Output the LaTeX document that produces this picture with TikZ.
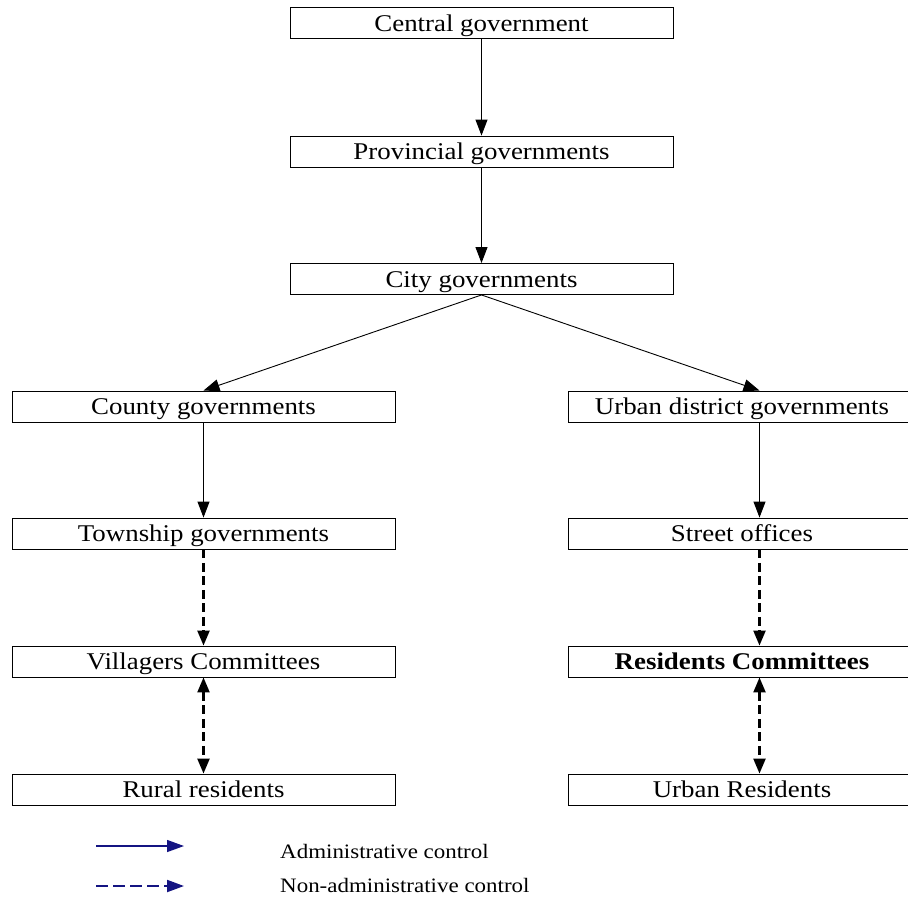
\documentclass[tikz,border=0pt]{standalone}
\usepackage{fontspec}
\setmainfont{Liberation Serif}[FakeStretch=1.12]
\usetikzlibrary{arrows.meta}
\definecolor{legendblue}{RGB}{20,20,130}
\begin{document}
\begin{tikzpicture}[x=1pt,y=-1pt,
  level/.style={draw,line width=0.9pt,minimum height=31pt,inner sep=0pt,
    text height=22pt,text depth=6pt,font=\fontsize{24}{28}\selectfont},
  leftbox/.style={level,minimum width=383pt},
  rightbox/.style={level,minimum width=348pt},
  adm/.style={line width=0.9pt,-{Triangle[length=16pt,width=12pt]}},
  nonadm/.style={line width=2.3pt,dash pattern=on 9pt off 4.5pt,-{Triangle[length=15pt,width=12pt]}},
  mutual/.style={line width=2.3pt,dash pattern=on 9pt off 4.5pt,
    {Triangle[length=15pt,width=12pt]}-{Triangle[length=15pt,width=12pt]}},
  legendtext/.style={anchor=base west,inner sep=0pt,font=\fontsize{20.5}{24}\selectfont}]
\useasboundingbox (0,0) rectangle (908,898);
\clip (0,0) rectangle (908,898);
% top chain
\node[leftbox] (central) at (481.5,23) {Central government};
\node[leftbox] (prov) at (481.5,151.5) {Provincial governments};
\node[leftbox] (city) at (481.5,279) {City governments};
% rural column
\node[leftbox] (county) at (203.5,406.5) {County governments};
\node[leftbox] (town) at (203.5,533.5) {Township governments};
\node[leftbox] (vill) at (203.5,661.5) {Villagers Committees};
\node[leftbox] (rural) at (203.5,789.5) {Rural residents};
% urban column (runs past the right edge)
\node[rightbox] (district) at (742,406.5) {Urban district governments};
\node[rightbox] (street) at (742,533.5) {Street offices};
\node[rightbox,font=\fontsize{24}{28}\selectfont\bfseries] (resc) at (742,661.5) {Residents Committees};
\node[rightbox] (urban) at (742,789.5) {Urban Residents};
% the urban-side connectors run along this vertical
\coordinate (rx) at (759.5,0);
% connectors
\draw[adm] (central) -- (prov);
\draw[adm] (prov) -- (city);
\draw[adm] (city.south) -- (county.north);
\draw[adm] (city.south) -- (district.north -| rx);
\draw[adm] (county) -- (town);
\draw[adm] (district.south -| rx) -- (street.north -| rx);
\draw[nonadm] (town) -- (vill);
\draw[nonadm] (street.south -| rx) -- (resc.north -| rx);
\draw[mutual] (vill) -- (rural);
\draw[mutual] (resc.south -| rx) -- (urban.north -| rx);
% legend
\coordinate (la1) at (96,846);
\coordinate (la2) at (184,846);
\coordinate (lb1) at (96,886);
\coordinate (lb2) at (184,886);
\draw[legendblue,line width=1.3pt,-{Triangle[length=17pt,width=12pt]}] (la1) -- (la2);
\draw[legendblue,line width=2pt,dash pattern=on 11.5pt off 5.5pt,
  -{Triangle[length=17pt,width=12pt]}] (lb1) -- (lb2);
\node[legendtext] (lta) at (280,858) {Administrative control};
\node[legendtext] (ltb) at (280,892) {Non-administrative control};
\end{tikzpicture}
\end{document}
